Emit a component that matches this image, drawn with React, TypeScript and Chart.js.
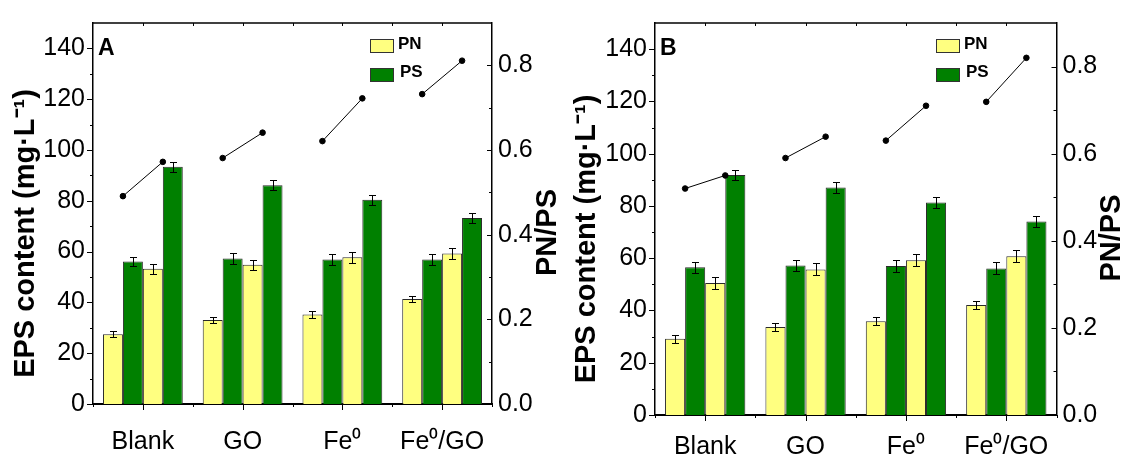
import React, { useEffect, useRef } from 'react';
import { Chart, registerables } from 'chart.js';

Chart.register(...registerables);

// ---------- data ----------
const categories = ['Blank', 'GO', 'Fe⁰', 'Fe⁰/GO'];
const leftTicks = [0, 20, 40, 60, 80, 100, 120, 140];
const rightTicks = [0, 0.2, 0.4, 0.6, 0.8];
const legendLabels = ['PN', 'PS'];

// Panel A
const pnA1 = [27.5, 33.1, 35.2, 41.3];
const psA1 = [56.1, 57.3, 56.9, 56.9];
const pnA2 = [53.2, 54.8, 57.8, 59.3];
const psA2 = [93.4, 86.1, 80.4, 73.2];
const pnA1Err = [1.3, 1.3, 1.3, 1.3];
const psA1Err = [1.9, 2.0, 2.0, 2.0];
const pnA2Err = [2.1, 2.0, 2.2, 2.1];
const psA2Err = [2.0, 2.0, 2.0, 2.0];
const ratioA1 = [0.491, 0.581, 0.621, 0.732];
const ratioA2 = [0.572, 0.641, 0.722, 0.811];

// Panel B
const pnB1 = [29.2, 33.7, 35.9, 42.1];
const psB1 = [56.5, 57.2, 57.0, 56.1];
const pnB2 = [50.5, 55.7, 59.2, 60.7];
const psB2 = [91.8, 87.1, 81.3, 74.0];
const pnB1Err = [1.5, 1.55, 1.6, 1.55];
const psB1Err = [2.05, 2.2, 2.2, 2.3];
const pnB2Err = [2.3, 2.3, 2.35, 2.3];
const psB2Err = [2.05, 2.1, 2.05, 2.1];
const ratioB1 = [0.52, 0.59, 0.63, 0.719];
const ratioB2 = [0.55, 0.639, 0.71, 0.82];

// ---------- style ----------
const W = 561;
const H = 458;
const CAT_PCT = 0.8;
const YELLOW = '#FFFF80';
const GREEN = '#008000';
const NARROW = "'Liberation Sans Narrow', 'Arial Narrow', 'Liberation Sans', Arial, sans-serif";
const BOLD = "'Liberation Sans', Arial, sans-serif";

type Area = { left: number; right: number; top: number; bottom: number };
type Panel = {
  letter: string;
  pn1: number[]; ps1: number[]; pn2: number[]; ps2: number[];
  pn1Err: number[]; ps1Err: number[]; pn2Err: number[]; ps2Err: number[];
  r1: number[]; r2: number[];
  area: Area;
  labelPad: number;
  leftTitleX: number;
  rightTitleX: number;
  legendX: number;
};

const panels: Panel[] = [
  {
    letter: 'A',
    pn1: pnA1, ps1: psA1, pn2: pnA2, ps2: psA2,
    pn1Err: pnA1Err, ps1Err: psA1Err, pn2Err: pnA2Err, ps2Err: psA2Err,
    r1: ratioA1, r2: ratioA2,
    area: { left: 93, right: 492, top: 10.7, bottom: 404 },
    labelPad: 23,
    leftTitleX: 26, rightTitleX: 548, legendX: 277,
  },
  {
    letter: 'B',
    pn1: pnB1, ps1: psB1, pn2: pnB2, ps2: psB2,
    pn1Err: pnB1Err, ps1Err: psB1Err, pn2Err: pnB2Err, ps2Err: psB2Err,
    r1: ratioB1, r2: ratioB2,
    area: { left: 94, right: 495.5, top: 14, bottom: 415 },
    labelPad: 17,
    leftTitleX: 26, rightTitleX: 551, legendX: 281,
  },
];

function makeDecor(p: Panel) {
  const vals = [p.pn1, p.ps1, p.pn2, p.ps2];
  const errs = [p.pn1Err, p.ps1Err, p.pn2Err, p.ps2Err];
  return {
    id: 'decor' + p.letter,
    afterDatasetsDraw(chart: any) {
      const ctx = chart.ctx;
      const y = chart.scales.y;
      ctx.save();
      ctx.strokeStyle = '#000';
      ctx.lineWidth = 1;
      [0, 1, 2, 3].forEach((di) => {
        const meta = chart.getDatasetMeta(di);
        meta.data.forEach((el: any, i: number) => {
          const e = errs[di][i];
          const v = vals[di][i];
          const yt = Math.round(y.getPixelForValue(v + e)) + 0.5;
          const yb = Math.round(y.getPixelForValue(v - e)) + 0.5;
          const cx = Math.round(el.x) + 0.5;
          ctx.beginPath();
          ctx.moveTo(cx, yt); ctx.lineTo(cx, yb);
          ctx.moveTo(cx - 3.5, yt); ctx.lineTo(cx + 3.5, yt);
          ctx.moveTo(cx - 3.5, yb); ctx.lineTo(cx + 3.5, yb);
          ctx.stroke();
        });
      });
      ctx.restore();
    },
    afterDraw(chart: any) {
      const ctx = chart.ctx;
      const ca = chart.chartArea;
      const x = chart.scales.x;
      const y = chart.scales.y;
      const y1 = chart.scales.y1;
      ctx.save();
      ctx.strokeStyle = '#000';
      ctx.lineWidth = 1.5;
      ctx.beginPath();
      ctx.moveTo(ca.left, ca.top); ctx.lineTo(ca.right, ca.top);
      ctx.stroke();
      ctx.lineWidth = 1;
      // left ticks (outward)
      for (let v = 0; v <= 140; v += 10) {
        const py = Math.round(y.getPixelForValue(v)) + 0.5;
        const len = v % 20 === 0 ? 6 : 3;
        ctx.beginPath(); ctx.moveTo(ca.left - len, py); ctx.lineTo(ca.left, py); ctx.stroke();
      }
      // right ticks (inward)
      for (let k = 0; k <= 8; k++) {
        const py = Math.round(y1.getPixelForValue(k / 10)) + 0.5;
        const len = k % 2 === 0 ? 5 : 3;
        ctx.beginPath(); ctx.moveTo(ca.right - len, py); ctx.lineTo(ca.right, py); ctx.stroke();
      }
      // bottom (outward) & top (inward) ticks at centres and boundaries
      const n = categories.length;
      for (let k = -1; k < 2 * n; k++) {
        const v = k / 2;
        if (v < -0.5 || v > n - 0.5) continue;
        const px = Math.round(x.getPixelForValue(v)) + 0.5;
        const major = k % 2 === 0;
        ctx.beginPath(); ctx.moveTo(px, ca.bottom); ctx.lineTo(px, ca.bottom + (major ? 6 : 3)); ctx.stroke();
        if (v > -0.5 && v < n - 0.5) {
          ctx.beginPath(); ctx.moveTo(px, ca.top); ctx.lineTo(px, ca.top + 3); ctx.stroke();
        }
      }

      // axis titles
      ctx.fillStyle = '#000';
      ctx.textAlign = 'center';
      ctx.textBaseline = 'middle';
      ctx.font = `bold 29px ${BOLD}`;
      const cy = (ca.top + ca.bottom) / 2 + 20;
      ctx.save();
      ctx.translate(p.leftTitleX, cy);
      ctx.rotate(-Math.PI / 2);
      ctx.fillText('EPS content (mg·L⁻¹)', 0, 0);
      ctx.restore();
      ctx.save();
      ctx.translate(p.rightTitleX, cy - 1);
      ctx.rotate(-Math.PI / 2);
      ctx.fillText('PN/PS', 0, 0);
      ctx.restore();

      // panel letter
      ctx.textAlign = 'left';
      ctx.textBaseline = 'alphabetic';
      ctx.font = `bold 23px ${NARROW}`;
      ctx.fillText(p.letter, ca.left + 5, ca.top + 32);

      // legend
      const colors = [YELLOW, GREEN];
      legendLabels.forEach((lab, k) => {
        const bx = ca.left + p.legendX;
        const by = ca.top + 16 + k * 29;
        ctx.fillStyle = colors[k];
        ctx.fillRect(bx, by, 24, 14);
        ctx.strokeStyle = '#333';
        ctx.lineWidth = 1;
        ctx.strokeRect(bx + 0.5, by + 0.5, 23, 13);
        ctx.fillStyle = '#000';
        ctx.font = `bold 17px ${NARROW}`;
        ctx.textBaseline = 'middle';
        ctx.fillText(lab, bx + 28 + k * 2, by + 5 - k * 1);
      });
      ctx.restore();
    },
  };
}

function buildConfig(p: Panel): any {
  const slot = CAT_PCT / 4;
  const pts: any[] = [];
  categories.forEach((_, i) => {
    pts.push({ x: i - slot, y: p.r1[i] }, { x: i + slot, y: p.r2[i] });
    if (i < categories.length - 1) pts.push({ x: i + 0.5, y: null });
  });
  const barDs = (data: number[], color: string) => ({
    type: 'bar',
    data: data.map((v, i) => ({ x: i, y: v })),
    backgroundColor: color,
    borderColor: '#2a2a2a',
    borderWidth: 1,
    categoryPercentage: CAT_PCT,
    barPercentage: 1,
    xAxisID: 'x',
    yAxisID: 'y',
    order: 1,
  });
  const tickFont = { family: NARROW, size: 25 };
  return {
    type: 'bar',
    data: {
      datasets: [
        barDs(p.pn1, YELLOW),
        barDs(p.ps1, GREEN),
        barDs(p.pn2, YELLOW),
        barDs(p.ps2, GREEN),
        {
          type: 'line',
          data: pts,
          xAxisID: 'x',
          yAxisID: 'y1',
          borderColor: '#000',
          borderWidth: 1,
          pointRadius: 2.8,
          pointBackgroundColor: '#000',
          pointBorderColor: '#000',
          spanGaps: false,
          order: 0,
        },
      ],
    },
    options: {
      animation: false,
      responsive: false,
      devicePixelRatio: 1,
      layout: { padding: { top: p.area.top, left: 0, right: 0, bottom: 0 } },
      plugins: { legend: { display: false }, tooltip: { enabled: false } },
      scales: {
        x: {
          type: 'linear',
          position: 'bottom',
          min: -0.5,
          max: categories.length - 0.5,
          offset: false,
          grid: { display: false, drawTicks: false },
          border: { display: true, color: '#000', width: 2 },
          ticks: {
            font: tickFont,
            color: '#000',
            padding: p.labelPad,
            maxRotation: 0,
            autoSkip: false,
            callback: (v: any) => categories[v] ?? '',
          },
          afterBuildTicks: (s: any) => { s.ticks = categories.map((_, i) => ({ value: i })); },
          afterFit: (s: any) => { s.height = H - p.area.bottom; },
        },
        y: {
          position: 'left',
          min: 0,
          max: 150,
          grid: { display: false, drawTicks: false },
          border: { display: true, color: '#000', width: 1.5 },
          ticks: { font: tickFont, color: '#000', padding: 8 },
          afterBuildTicks: (s: any) => { s.ticks = leftTicks.map((v) => ({ value: v })); },
          afterFit: (s: any) => { s.width = p.area.left; },
        },
        y1: {
          position: 'right',
          min: 0,
          max: 0.9,
          grid: { display: false, drawTicks: false },
          border: { display: true, color: '#000', width: 1.5 },
          ticks: { font: tickFont, color: '#000', padding: 6, callback: (v: any) => Number(v).toFixed(1) },
          afterBuildTicks: (s: any) => { s.ticks = rightTicks.map((v) => ({ value: v })); },
          afterFit: (s: any) => { s.width = W - p.area.right; },
        },
      },
    },
    plugins: [makeDecor(p)],
  };
}

function PanelChart({ p }: { p: Panel }) {
  const ref = useRef<HTMLCanvasElement | null>(null);
  useEffect(() => {
    if (!ref.current) return;
    const chart = new Chart(ref.current, buildConfig(p));
    return () => chart.destroy();
  }, [p]);
  return <canvas ref={ref} width={W} height={H} style={{ width: W, height: H, display: 'block' }} />;
}

export default function App() {
  return (
    <div style={{ position: 'absolute', left: 0, top: 0, width: 1122, height: 458, display: 'flex', background: '#fff' }}>
      {panels.map((p) => (
        <PanelChart key={p.letter} p={p} />
      ))}
    </div>
  );
}
